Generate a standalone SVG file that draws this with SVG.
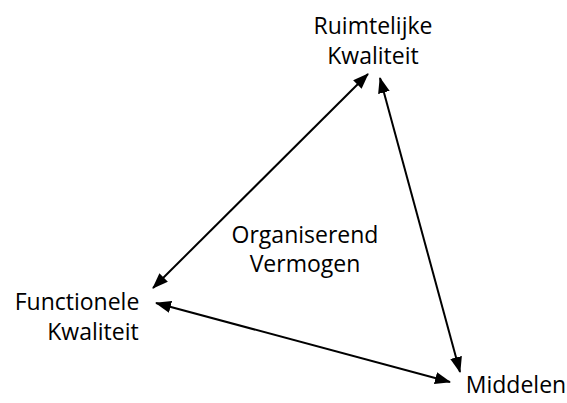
<svg xmlns="http://www.w3.org/2000/svg" width="567" height="403" viewBox="0 0 567 403">
  <style>
    .lbl { font-family: "Open Sans", "Lato", "Liberation Sans", sans-serif; font-size: 23px; fill: #000; }
    .edge { stroke: #000; stroke-width: 2; fill: none; marker-start: url(#head); marker-end: url(#head); }
  </style>
  <defs>
    <!-- filled triangular arrowhead, reused at both ends of every edge -->
    <marker id="head" viewBox="0 0 16 12" refX="15" refY="6" markerWidth="16" markerHeight="12" markerUnits="userSpaceOnUse" orient="auto-start-reverse">
      <path d="M0,0 L16,6 L0,12 Z" fill="#000"/>
    </marker>
  </defs>
  <rect width="567" height="403" fill="#fff"/>
  <g id="connectors">
    <line class="edge" x1="153" y1="288" x2="368" y2="74"/>
    <line class="edge" x1="380" y1="78" x2="460" y2="372"/>
    <line class="edge" x1="156" y1="303" x2="450" y2="382"/>
  </g>
  <g id="ruimtelijke">
    <text class="lbl" x="373" y="34" text-anchor="middle">Ruimtelijke</text>
    <text class="lbl" x="373" y="64" text-anchor="middle">Kwaliteit</text>
  </g>
  <g id="functionele">
    <text class="lbl" x="77" y="310" text-anchor="middle">Functionele</text>
    <text class="lbl" x="93" y="340" text-anchor="middle">Kwaliteit</text>
  </g>
  <g id="middelen">
    <text class="lbl" x="516" y="393" text-anchor="middle">Middelen</text>
  </g>
  <g id="organiserend">
    <text class="lbl" x="305" y="243" text-anchor="middle">Organiserend</text>
    <text class="lbl" x="305" y="272" text-anchor="middle">Vermogen</text>
  </g>
</svg>
